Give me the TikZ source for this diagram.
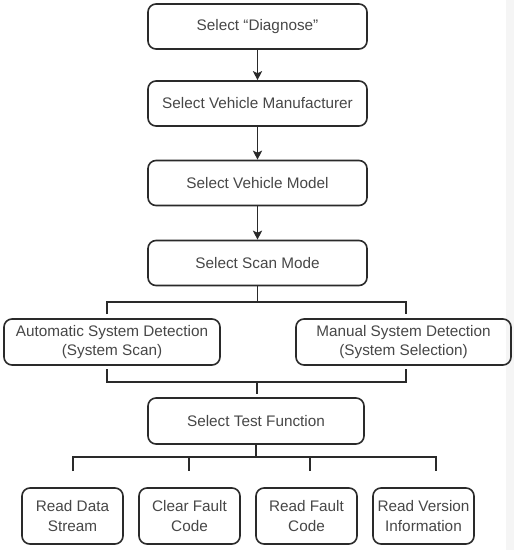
\documentclass[tikz,border=0pt]{standalone}
\usepackage{fontspec}
\setmainfont{Liberation Sans}
\usetikzlibrary{arrows.meta}
\definecolor{txt}{HTML}{474747}
\definecolor{ln}{HTML}{2A2A2A}
\begin{document}
\begin{tikzpicture}[x=1pt,y=-1pt,
  box/.style={draw=ln, line width=1.6pt, rounded corners=8pt, align=center, text=txt,
    font=\fontsize{15.3}{19.5}\selectfont, inner sep=0pt},
  wide/.style={box, minimum width=219pt, minimum height=45pt},
  side/.style={box, minimum width=216pt, minimum height=46pt},
  leaf/.style={box, minimum width=101pt, minimum height=56pt},
  conn/.style={draw=ln, line width=1.6pt},
  arr/.style={conn, -{Stealth[length=9pt,width=9pt,inset=2pt]}}]
\useasboundingbox (0,0) rectangle (514,550);
\fill[white] (0,0) rectangle (514,550);
\fill[gray!8] (506,0) rectangle (514,550);
\node[wide] (b1) at (257.5,26.5) {Select “Diagnose”};
\node[wide] (b2) at (257.5,103.5) {Select Vehicle Manufacturer};
\node[wide] (b3) at (257.5,183) {Select Vehicle Model};
\node[wide] (b4) at (257.5,263) {Select Scan Mode};
\node[side] (auto) at (112,342) {Automatic System Detection\\(System Scan)};
\node[side, minimum width=215pt] (man) at (403.5,342) {Manual System Detection\\(System Selection)};
\node[side] (test) at (256,421) {Select Test Function};
\node[leaf] (r1) at (72.5,516) {Read Data\\Stream};
\node[leaf] (r2) at (189.5,516) {Clear Fault\\Code};
\node[leaf] (r3) at (306.5,516) {Read Fault\\Code};
\node[leaf] (r4) at (423.5,516) {Read Version\\Information};
\draw[arr] (b1) -- (b2);
\draw[arr] (b2) -- (b3);
\draw[arr] (b3) -- (b4);
% split to scan modes
\coordinate (s0) at (257.5,302);
\coordinate (sl) at (107,302);
\coordinate (sr) at (406,302);
\coordinate (slb) at (107,314);
\coordinate (srb) at (406,314);
\draw[conn] (b4.south) -- (s0);
\draw[conn] (slb) -- (sl) -- (sr) -- (srb);
% merge
\coordinate (ml) at (107,369);
\coordinate (mr) at (406,369);
\coordinate (mlb) at (107,382);
\coordinate (mrb) at (406,382);
\coordinate (m0) at (257,382);
\coordinate (m1) at (257,394);
\draw[conn] (ml) -- (mlb) -- (mrb) -- (mr);
\draw[conn] (m0) -- (m1);
% split to functions
\coordinate (t0) at (256,457);
\coordinate (t1) at (73,457);
\coordinate (t4) at (436,457);
\coordinate (d1) at (73,471);
\coordinate (d2) at (189,471);
\coordinate (d3) at (310,471);
\coordinate (d4) at (436,471);
\coordinate (u2) at (189,457);
\coordinate (u3) at (310,457);
\draw[conn] (test.south) -- (t0);
\draw[conn] (d1) -- (t1) -- (t4) -- (d4);
\draw[conn] (u2) -- (d2);
\draw[conn] (u3) -- (d3);
\end{tikzpicture}
\end{document}
